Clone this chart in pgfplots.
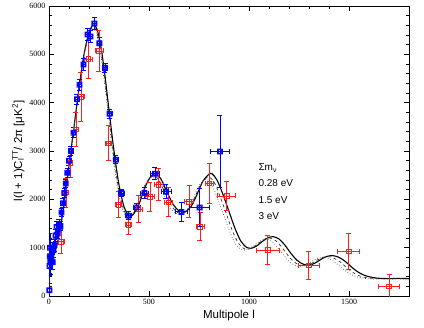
\documentclass[border=0pt]{standalone}
\usepackage{fontspec}
\setmainfont{Liberation Sans}
\newfontfamily\numfont{Liberation Serif}
\usepackage{pgfplots}
\pgfplotsset{compat=1.18}
\usepackage{pgfplotstable}

\definecolor{wblue}{RGB}{0,0,255}
\definecolor{ared}{RGB}{255,30,30}

% square with a circle inside, for the blue points
\pgfdeclareplotmark{sqcirc}{%
  \pgfpathrectangle{\pgfpoint{-\pgfplotmarksize}{-\pgfplotmarksize}}{\pgfpoint{2\pgfplotmarksize}{2\pgfplotmarksize}}%
  \pgfpathcircle{\pgfpointorigin}{0.8\pgfplotmarksize}%
  \pgfusepathqstroke}

\pgfplotstableread{
x y ex ey
2 120 1 300
3 620 1 350
4 820 1 350
5 1000 1 300
7 700 1 250
9 800 1 250
12 760 2 200
15 900 2 200
19 700 2 150
23 950 2 150
28 1050 3 130
33 1250 3 120
38 1430 3 110
44 1300 4 100
50 1480 4 100
57 1450 4 90
63 1730 5 90
70 1920 5 90
77 2130 5 90
84 2330 5 90
92 2550 6 90
100 2800 6 90
110 3000 7 90
123 3380 7 100
140 4070 8 100
153 4370 8 110
173 4790 9 120
193 5410 10 120
208 5370 10 120
227 5640 10 120
252 5230 12 110
280 4720 12 100
303 3770 12 90
334 2820 14 80
362 2130 14 80
398 1660 16 80
438 1830 18 90
478 2130 20 110
530 2530 22 120
585 2160 25 140
662 1740 30 200
753 1830 50 400
855 2990 48 750
}\bluedata

\pgfplotstableread{
x y ex ey
60 1124 15 250
85 2140 12 300
107 2760 12 300
135 3450 12 350
160 4120 15 500
197 4900 20 400
250 5070 20 430
297 3160 15 360
347 1890 15 270
398 1470 15 190
447 1800 20 280
505 2050 22 300
548 2300 22 330
597 1940 22 300
700 1950 22 330
755 1430 20 290
802 2330 22 420
888 2070 45 300
1093 950 57 300
1298 630 52 290
1498 920 56 370
1700 200 52 250
}\reddata

\begin{document}
\begin{tikzpicture}
\path (-49pt,-31pt) rectangle (375pt,296pt);
\begin{axis}[
    scale only axis,
    width=360pt, height=290pt,
    xmin=0, xmax=1800,
    ymin=0, ymax=6000,
    xtick={0,500,1000,1500},
    ytick={0,1000,2000,3000,4000,5000,6000},
    minor x tick num=4,
    minor y tick num=4,
    tick align=inside,
    major tick length=5pt,
    minor tick length=3pt,
    tick style={black, line width=0.6pt},
    axis line style={line width=0.9pt},
    /pgf/number format/assume math mode=true,
    /pgf/number format/1000 sep={},
    tick label style={font=\numfont\fontsize{8}{9}\selectfont},
    xlabel={Multipole l},
    ylabel={l(l + 1)C\rlap{\textsubscript{l}}\textsuperscript{TT}/ 2π [μK\textsuperscript{2}]},
    label style={font=\fontsize{11.5}{13}\selectfont},
    xlabel style={at={(axis description cs:0.5,-0.035)}, anchor=north},
    ylabel style={at={(axis description cs:-0.058,0.5)}, anchor=south},
    clip=true,
]
% model spectra
\addplot[black, line width=1.1pt, smooth, tension=0.5] coordinates {
(2,1050)(10,870)(20,850)(30,930)(50,1250)(75,1900)(100,2700)(125,3500)(150,4300)
(175,5000)(200,5450)(220,5600)(240,5520)(260,5150)(280,4550)(300,3850)(325,3000)
(350,2300)(375,1850)(400,1660)(420,1680)(450,1900)(480,2250)(510,2480)(535,2530)
(560,2420)(590,2150)(620,1900)(650,1760)(680,1740)(710,1850)(740,2100)(770,2380)
(800,2520)(815,2530)(840,2400)(870,2100)(900,1750)(930,1400)(960,1130)(990,1000)
(1010,985)(1040,1040)(1070,1140)(1100,1215)(1120,1230)(1150,1180)(1180,1050)
(1210,880)(1240,740)(1270,660)(1300,640)(1330,680)(1360,760)(1390,820)(1420,835)
(1450,800)(1480,720)(1510,610)(1540,510)(1570,440)(1600,400)(1640,370)(1700,360)
(1750,365)(1800,360)
};
\addplot[black!80, line width=0.7pt, dashed, smooth, tension=0.5] coordinates {
(2,1040)(10,860)(20,840)(30,920)(50,1240)(75,1880)(100,2680)(125,3480)(150,4280)
(175,4980)(200,5420)(218,5560)(238,5480)(258,5100)(278,4500)(298,3800)(322,2950)
(346,2260)(370,1830)(393,1640)(413,1660)(443,1870)(473,2210)(503,2440)(527,2490)
(552,2380)(582,2110)(612,1870)(641,1730)(671,1710)(700,1810)(730,2050)(759,2320)
(788,2450)(803,2460)(828,2340)(857,2040)(887,1700)(916,1360)(946,1100)(975,980)
(995,965)(1024,1015)(1054,1110)(1083,1185)(1102,1200)(1132,1150)(1162,1020)
(1191,860)(1220,725)(1250,645)(1280,625)(1309,665)(1339,740)(1368,800)(1397,815)
(1426,780)(1456,705)(1486,595)(1515,500)(1545,430)(1575,390)(1615,365)(1675,355)
(1725,360)(1780,355)(1800,355)
};
\addplot[black!70, line width=0.7pt, dotted, smooth, tension=0.5] coordinates {
(2,1030)(10,850)(20,830)(30,910)(50,1230)(75,1860)(100,2660)(125,3460)(150,4260)
(175,4960)(198,5400)(216,5530)(236,5440)(256,5060)(276,4460)(296,3760)(319,2920)
(343,2230)(366,1810)(388,1620)(408,1640)(437,1850)(466,2180)(496,2410)(519,2460)
(544,2350)(574,2080)(604,1840)(632,1710)(662,1690)(691,1790)(720,2020)(749,2280)
(777,2400)(791,2410)(816,2290)(845,1990)(874,1670)(903,1340)(932,1080)(961,965)
(980,950)(1009,1000)(1038,1090)(1067,1165)(1085,1180)(1115,1130)(1144,1000)
(1173,845)(1201,715)(1230,635)(1259,615)(1289,655)(1318,725)(1347,785)(1376,800)
(1404,765)(1433,690)(1462,585)(1491,495)(1521,425)(1550,385)(1590,360)(1650,350)
(1700,355)(1760,350)(1800,350)
};
% red data
\addplot[ared, only marks, mark=square, mark size=2.3pt, line width=0.8pt,
    error bars/x dir=both, error bars/x explicit,
    error bars/y dir=both, error bars/y explicit,
    error bars/error bar style={ared, line width=0.9pt},
    error bars/error mark options={ared, rotate=90, mark size=2.5pt, line width=0.9pt}]
    table[x=x, y=y, x error=ex, y error=ey] {\reddata};
% blue data
\addplot[wblue, only marks, mark=sqcirc, mark size=2.5pt, line width=0.8pt,
    error bars/x dir=both, error bars/x explicit,
    error bars/y dir=both, error bars/y explicit,
    error bars/error bar style={wblue, line width=0.9pt},
    error bars/error mark options={wblue, rotate=90, mark size=2.5pt, line width=0.9pt}]
    table[x=x, y=y, x error=ex, y error=ey] {\bluedata};
\node[anchor=west, font=\fontsize{10}{12}\selectfont] at (axis cs:1030,2650) {Σm\textsubscript{ν}};
\node[anchor=west, font=\fontsize{10}{12}\selectfont] at (axis cs:1030,2330) {0.28 eV};
\node[anchor=west, font=\fontsize{10}{12}\selectfont] at (axis cs:1030,1990) {1.5 eV};
\node[anchor=west, font=\fontsize{10}{12}\selectfont] at (axis cs:1030,1650) {3 eV};
\end{axis}
\end{tikzpicture}
\end{document}
